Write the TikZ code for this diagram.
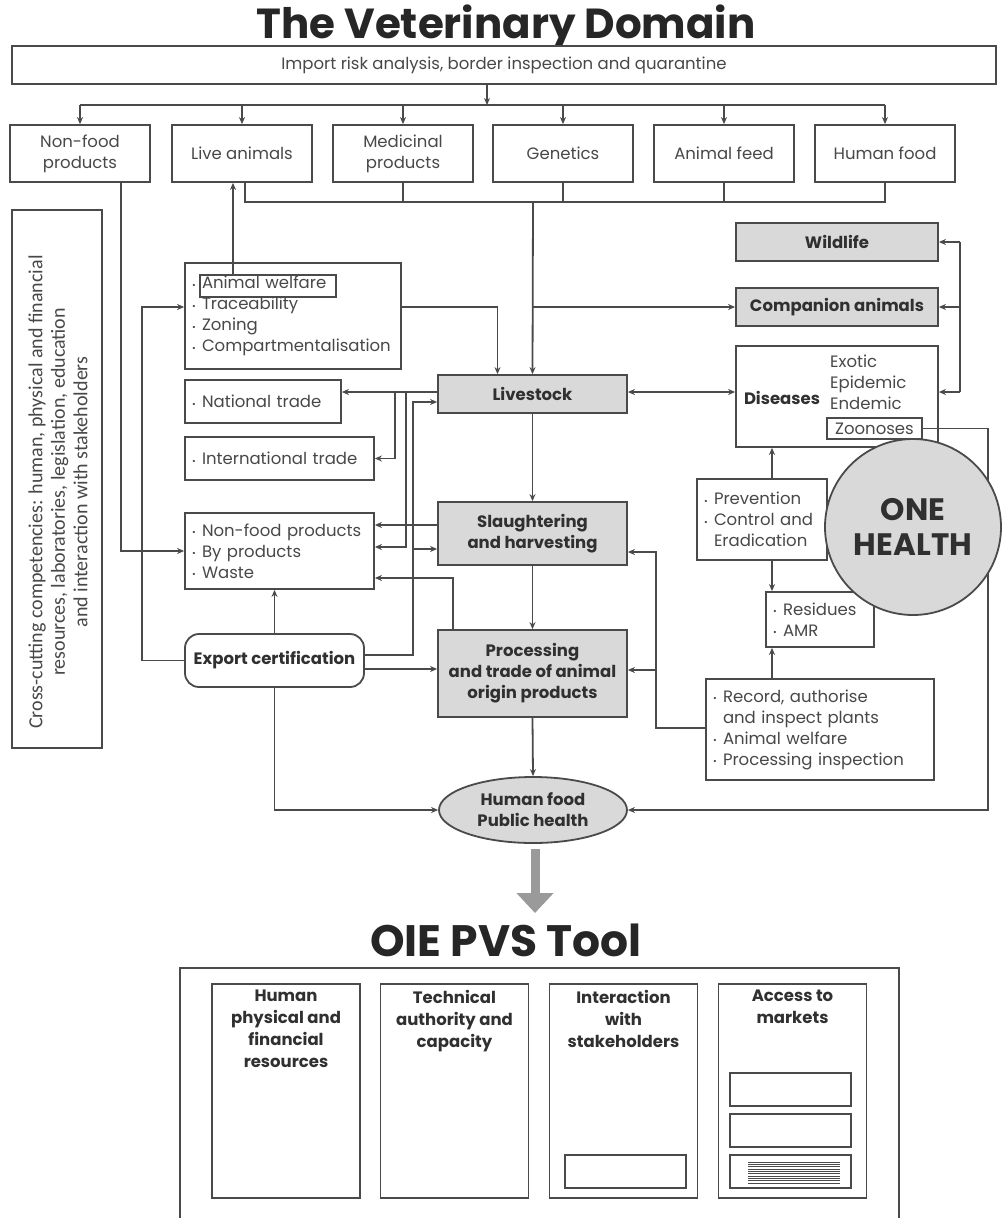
\documentclass[tikz,border=0pt]{standalone}
\usepackage{fontspec}
\setmainfont{Poppins}
\newfontfamily\carl{Carlito}
\usetikzlibrary{arrows.meta,shapes.geometric,calc}
\definecolor{lnc}{HTML}{4A4A4A}
\definecolor{txc}{HTML}{484848}
\definecolor{bdc}{HTML}{303030}
\definecolor{fillc}{HTML}{D9D9D9}
\definecolor{bigc}{HTML}{9A9A9A}
\newcommand\bul{\makebox[10pt][l]{\raisebox{0.5pt}{\fontsize{9}{9}\selectfont\textbullet}}}
\begin{document}
\begin{tikzpicture}[x=1pt,y=-1pt,
  sz/.style 2 args={minimum width=#1pt,minimum height=#2pt},
  ln/.style={draw=lnc, line width=1.8pt},
  arr/.style={draw=lnc, line width=1.8pt, -{Stealth[length=7pt,width=6pt]}},
  darr/.style={draw=lnc, line width=1.8pt, {Stealth[length=7pt,width=6pt]}-{Stealth[length=7pt,width=6pt]}},
  bx/.style={draw=lnc, line width=1.8pt, fill=white, inner sep=0pt, text=txc, align=center, font=\fontsize{16.5}{21}\selectfont},
  gbx/.style={bx, fill=fillc, text=bdc, font=\bfseries\fontsize{16.5}{21}\selectfont},
  lst/.style={bx, align=left, inner xsep=7pt},
  ttl/.style={inner sep=0pt, text=black!85, font=\bfseries\fontsize{42}{46}\selectfont},
  col/.style={draw=lnc, line width=1.8pt, inner sep=0pt},
  colt/.style={inner sep=0pt, align=center, text=bdc, font=\bfseries\fontsize{16.5}{22}\selectfont},
]
\useasboundingbox[fill=white] (0,0) rectangle (1004,1218);

% titles
\node[ttl] (t1) at (506,27) {The Veterinary Domain};
\node[bx, sz={984}{38}] (imp) at (504,65) {Import risk analysis, border inspection and quarantine};

% top row
\node[bx, sz={140}{57}] (nf) at (80,153.5) {Non-food\\products};
\node[bx, sz={140}{57}] (la) at (242,153.5) {Live animals};
\node[bx, sz={140}{57}] (mp) at (403,153.5) {Medicinal\\products};
\node[bx, sz={140}{57}] (ge) at (563,153.5) {Genetics};
\node[bx, sz={140}{57}] (af) at (724,153.5) {Animal feed};
\node[bx, sz={140}{57}] (hf) at (885,153.5) {Human food};

% cross-cutting
\node[bx, sz={90}{538}] (cc) at (57,479) {};
\node[rotate=90, inner sep=0pt, align=center, text=txc, font=\carl\fontsize{20}{22.5}\selectfont] (cct) at (58,492)
 {Cross-cutting competencies: human, physical and financial\\resources, laboratories, legislation, education\\and interaction with stakeholders};

% left lists
\node[lst, sz={216}{106}, text width=202pt] (aw) at (293,316)
 {\bul Animal welfare\\\bul Traceability\\\bul Zoning\\\bul Compartmentalisation};
\node[draw=lnc, line width=1.4pt, inner sep=0pt, sz={136}{22}] (awf) at (268,286) {};
\node[lst, sz={156}{43}, text width=142pt] (nt) at (263,401.5) {\bul National trade};
\node[lst, sz={189}{43}, text width=175pt] (it) at (279.5,458.5) {\bul International trade};
\node[lst, sz={189}{76}, text width=175pt] (nfb) at (279.5,551) {\bul Non-food products\\\bul By products\\\bul Waste};
\node[bx, sz={179}{53}, rounded corners=14pt, font=\bfseries\fontsize{16.5}{21}\selectfont, text=bdc] (ec) at (274.5,660.5) {Export certification};

% centre column
\node[gbx, sz={189}{38}] (ls) at (532.5,394) {Livestock};
\node[gbx, sz={189}{63}] (sl) at (532.5,533.5) {Slaughtering\\and harvesting};
\node[gbx, sz={189}{87}] (pr) at (532.5,673.5) {Processing\\and trade of animal\\origin products};
\node[gbx, ellipse, sz={188}{66}] (hfp) at (533,810) {Human food\\Public health};

% right column
\node[gbx, sz={202}{38}] (wl) at (837,242) {Wildlife};
\node[gbx, sz={202}{38}] (ca) at (837,307) {Companion animals};
\node[bx, sz={202}{101}] (ds) at (837,396.5) {};
\node[inner sep=0pt, text=bdc, font=\bfseries\fontsize{16.5}{21}\selectfont] (dsl) at (782,398) {Diseases};
\node[inner sep=0pt, anchor=north west, align=left, text=txc, font=\fontsize{16.5}{21}\selectfont] (dsi) at (830,355) {Exotic\\Epidemic\\Endemic};
\node[bx, sz={95}{21}, line width=1.4pt, font=\fontsize{16.5}{21}\selectfont] (zo) at (874.5,428.5) {Zoonoses};
\node[lst, sz={130}{81}, text width=116pt] (pv) at (762,519.5) {\bul Prevention\\\bul Control and\\\hspace*{10pt}Eradication};
\node[lst, sz={108}{55}, text width=94pt] (rs) at (820,619.5) {\bul Residues\\\bul AMR};
\node[lst, sz={228}{101}, text width=214pt] (rc) at (820,729.5) {\bul Record, authorise\\\hspace*{10pt}and inspect plants\\\bul Animal welfare\\\bul Processing inspection};

% helper coordinates
\coordinate (busT) at (487,105);
\coordinate (b2) at (533,202);
\coordinate (yw) at (0,307);
\coordinate (xla) at (233,0);
\coordinate (xe) at (142,0);
\coordinate (xn) at (121,0);
\coordinate (yl) at (0,392);
\coordinate (j1) at (395,392);
\coordinate (j2) at (406,392);
\coordinate (y547) at (0,547);
\coordinate (e1) at (413,655);
\coordinate (yls2) at (0,402);
\coordinate (y549) at (0,549);
\coordinate (y525) at (0,525);
\coordinate (x453) at (453,0);
\coordinate (y578) at (0,578);
\coordinate (y669) at (0,669);
\coordinate (xr) at (960,0);
\coordinate (x988) at (988,0);
\coordinate (xg) at (656,0);
\coordinate (y728) at (0,728);
\coordinate (y552) at (0,552);
\coordinate (y670) at (0,670);
\coordinate (xp) at (772,0);
\coordinate (bigend) at (535,913);

% top buses
\draw[arr] (imp.south -| busT) -- (busT);
\draw[ln] (nf.north |- busT) -- (hf.north |- busT);
\foreach \n in {nf,la,mp,ge,af,hf} \draw[arr] (\n.north |- busT) -- (\n.north);
\draw[ln] ([xshift=3pt]la.south) |- (hf.south |- b2) -- (hf.south);
\foreach \n in {mp,ge,af} \draw[ln] (\n.south) -- (\n.south |- b2);
\draw[arr] (b2) -- (ls.north);
\draw[arr] (b2 |- ca.west) -- (ca.west);

% welfare
\draw[arr] (aw.east |- yw) -| ([xshift=-35pt]ls.north);
\draw[arr] (awf.north -| xla) -- (la.south -| xla);
\draw[arr] (ec.west) -| (xe |- yw) -- (aw.west |- yw);
\draw[arr] (nf.south -| xn) |- (nfb.west);

% livestock to trade
\draw[arr] (ls.west |- yl) -- (nt.east |- yl);
\draw[arr] (j1) |- (it.east);
\draw[arr] (j2) |- (nfb.east |- y547);

% export certification
\draw[arr] (ec.east |- e1) -| (e1 |- yls2) -- (ls.west |- yls2);
\draw[arr] (e1 |- y549) -- (sl.west |- y549);
\draw[arr] (ec.east |- y669) -- (pr.west |- y669);
\draw[arr] (ec.north) -- (nfb.south -| ec.north);
\draw[arr] (ec.south) |- (hfp.west);

\draw[arr] (sl.west |- y525) -- (nfb.east |- y525);
\draw[arr] (pr.north -| x453) |- (nfb.east |- y578);

% main chain
\draw[arr] (ls.south) -- (sl.north);
\draw[arr] (sl.south) -- (pr.north);
\draw[arr] (pr.south) -- (hfp.north);

% right side
\draw[darr] (ls.east |- yl) -- (ds.west |- yl);
\draw[ln] (xr |- wl.east) -- (xr |- yl);
\draw[arr] (xr |- wl.east) -- (wl.east);
\draw[arr] (xr |- ca.east) -- (ca.east);
\draw[arr] (xr |- yl) -- (ds.east |- yl);
\draw[arr] (zo.east) -| (x988 |- hfp.east) -- (hfp.east);

\draw[arr] (rc.west |- y728) -| (xg |- y552) -- (sl.east |- y552);
\draw[arr] (xg |- y670) -- (pr.east |- y670);
\draw[arr] (pv.north -| xp) -- (ds.south -| xp);
\draw[arr] (pv.south -| xp) -- (rs.north -| xp);
\draw[arr] (rc.north -| xp) -- (rs.south -| xp);

% one health
\node[circle, draw=lnc, line width=1.8pt, fill=fillc, minimum size=176pt, inner sep=0pt, align=center, text=bdc, font=\bfseries\fontsize{31}{35}\selectfont] (oh) at (913,527) {ONE\\HEALTH};

% big arrow
\draw[line width=9pt, draw=bigc, -{Triangle[length=20pt,width=36pt]}] ([yshift=-5pt]hfp.south -| bigend) -- (bigend);

% PVS
\node[ttl, font=\bfseries\fontsize{44}{48}\selectfont] (t2) at (506,940) {OIE PVS Tool};
\draw[ln] (180,1220) -- (180,968) -- (899,968) -- (899,1220);
\node[col, sz={148}{214}] (c1) at (286,1091) {};
\node[col, sz={148}{214}] (c2) at (454.5,1091) {};
\node[col, sz={148}{214}] (c3) at (623.5,1091) {};
\node[col, sz={148}{214}] (c4) at (792.5,1091) {};
\node[colt, anchor=north] (c1t) at ([yshift=-7pt]c1.north) {Human\\physical and\\financial\\resources};
\node[colt, anchor=north] (c2t) at ([yshift=-7pt]c2.north) {Technical\\authority and\\capacity};
\node[colt, anchor=north] (c3t) at ([yshift=-7pt]c3.north) {Interaction\\with\\stakeholders};
\node[colt, anchor=north] (c4t) at ([yshift=-7pt]c4.north) {Access to\\markets};
\node[col, sz={121}{33}] (s3) at (625.5,1171.5) {};
\node[col, sz={121}{33}] (m1) at (790.5,1089.5) {};
\node[col, sz={121}{33}] (m2) at (790.5,1130.5) {};
\node[col, sz={121}{33}] (m3) at (790.5,1171.5) {};
\foreach \i in {0,...,9} \draw[draw=lnc, line width=0.9pt] (748,1162+\i*2.35) -- (840,1162+\i*2.35);
\end{tikzpicture}
\end{document}
